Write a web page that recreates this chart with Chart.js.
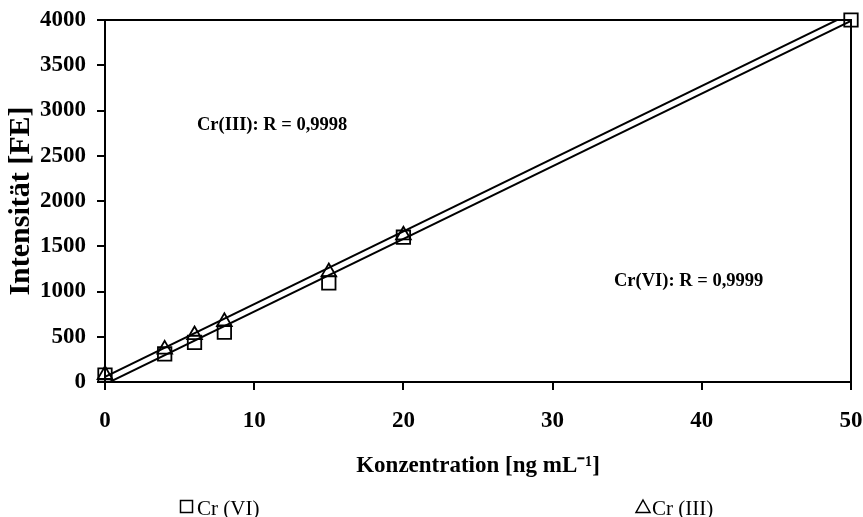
<!DOCTYPE html>
<html>
<head>
<meta charset="utf-8">
<script src="https://cdn.jsdelivr.net/npm/chart.js@4.4.1/dist/chart.umd.min.js"></script>
<style>
  html, body { margin: 0; padding: 0; background: #fff; }
  canvas { display: block; }
</style>
</head>
<body>
<canvas id="calibrationChart" width="863" height="517"></canvas>
<script>
// Calibration points (concentration in ng/mL, intensity in FE)
const cr6Conc = [0, 4, 6, 8, 15, 20, 50];
const cr6Intensity = [77, 310, 437, 550, 1095, 1600, 4000];
const cr3Conc = [0, 4, 6, 8, 15, 20];
const cr3Intensity = [80, 360, 520, 665, 1215, 1622];

// Linear fit lines, end points at 0 and 50 ng/mL
const fitConc = [0, 50];
const cr6Fit = [-25, 3990];
const cr3Fit = [58, 4075];

// Axis ticks
const xTicks = [0, 10, 20, 30, 40, 50];
const yTicks = [0, 500, 1000, 1500, 2000, 2500, 3000, 3500, 4000];

const SERIF = "'Liberation Serif', 'Times New Roman', serif";

function toPoints(xs, ys) {
  return xs.map((x, i) => ({ x: x, y: ys[i] }));
}

// keep the plot area where layout.padding puts it
function noLabelPadding(scale) {
  scale.paddingTop = 0;
  scale.paddingBottom = 0;
  scale.paddingLeft = 0;
  scale.paddingRight = 0;
}

// Border around the plot area, fit labels and the legend row
const decorations = {
  id: "decorations",
  afterDatasetsDraw(chart) {
    const { ctx, chartArea } = chart;
    ctx.save();
    ctx.strokeStyle = "#000";
    ctx.lineWidth = 2;
    ctx.strokeRect(chartArea.left, chartArea.top,
      chartArea.right - chartArea.left, chartArea.bottom - chartArea.top);

    ctx.fillStyle = "#000";
    ctx.font = "bold 18.5px " + SERIF;
    ctx.textBaseline = "middle";
    ctx.textAlign = "left";
    ctx.fillText("Cr(III): R = 0,9998", 197, 125);
    ctx.fillText("Cr(VI): R = 0,9999", 614, 281);

    // legend
    ctx.lineWidth = 1.5;
    ctx.strokeRect(180.5, 500.5, 12, 12);
    ctx.beginPath();
    ctx.moveTo(643, 500);
    ctx.lineTo(650, 512.5);
    ctx.lineTo(636, 512.5);
    ctx.closePath();
    ctx.stroke();
    ctx.font = "21px " + SERIF;
    ctx.textBaseline = "alphabetic";
    ctx.fillText("Cr (VI)", 197, 515);
    ctx.fillText("Cr (III)", 652, 515);
    ctx.restore();
  }
};

function renderCalibrationChart() {
  const ctx = document.getElementById("calibrationChart").getContext("2d");

  new Chart(ctx, {
    type: "scatter",
    data: {
      datasets: [
        {
          label: "Cr (VI) fit",
          data: toPoints(fitConc, cr6Fit),
          showLine: true,
          borderColor: "#000",
          borderWidth: 2,
          pointRadius: 0,
          order: 3,
        },
        {
          label: "Cr (III) fit",
          data: toPoints(fitConc, cr3Fit),
          showLine: true,
          borderColor: "#000",
          borderWidth: 2,
          pointRadius: 0,
          order: 3,
        },
        {
          label: "Cr (VI)",
          data: toPoints(cr6Conc, cr6Intensity),
          pointStyle: "rect",
          pointRadius: 9.5,
          borderColor: "#000",
          backgroundColor: "rgba(0,0,0,0)",
          borderWidth: 1.8,
          clip: false,
          order: 2,
        },
        {
          label: "Cr (III)",
          data: toPoints(cr3Conc, cr3Intensity),
          pointStyle: "triangle",
          pointRadius: 8.5,
          borderColor: "#000",
          backgroundColor: "rgba(0,0,0,0)",
          borderWidth: 1.8,
          clip: false,
          order: 1,
        },
      ],
    },
    options: {
      responsive: false,
      animation: false,
      devicePixelRatio: 1,
      layout: { padding: { left: 0, right: 12, top: 20, bottom: 0 } },
      plugins: {
        legend: { display: false },
        tooltip: { enabled: false },
      },
      scales: {
        x: {
          type: "linear",
          min: xTicks[0],
          max: xTicks[xTicks.length - 1],
          afterBuildTicks: (scale) => { scale.ticks = xTicks.map((v) => ({ value: v })); },
          afterFit: (scale) => { scale.height = 135; noLabelPadding(scale); },
          grid: { drawOnChartArea: false, drawTicks: true, tickLength: 8, color: "#000", lineWidth: 2 },
          border: { display: true, color: "#000", width: 2 },
          ticks: {
            color: "#000",
            padding: 17,
            maxRotation: 0,
            font: { family: SERIF, size: 23, weight: "bold" },
          },
          title: {
            display: true,
            text: "Konzentration [ng mL⁻¹]",
            color: "#000",
            padding: { top: 0, bottom: 37 },
            font: { family: SERIF, size: 23, weight: "bold" },
          },
        },
        y: {
          type: "linear",
          min: yTicks[0],
          max: yTicks[yTicks.length - 1],
          afterBuildTicks: (scale) => { scale.ticks = yTicks.map((v) => ({ value: v })); },
          afterFit: (scale) => { scale.width = 105; noLabelPadding(scale); },
          grid: { drawOnChartArea: false, drawTicks: true, tickLength: 8, color: "#000", lineWidth: 2 },
          border: { display: true, color: "#000", width: 2 },
          ticks: {
            color: "#000",
            padding: 11,
            callback: (value) => String(value),
            font: { family: SERIF, size: 23, weight: "bold" },
          },
          title: {
            display: true,
            text: "Intensität [FE]",
            color: "#000",
            padding: { top: 3, bottom: 0 },
            font: { family: SERIF, size: 30, weight: "bold" },
          },
        },
      },
    },
    plugins: [decorations],
  });
}

renderCalibrationChart();
</script>
</body>
</html>
